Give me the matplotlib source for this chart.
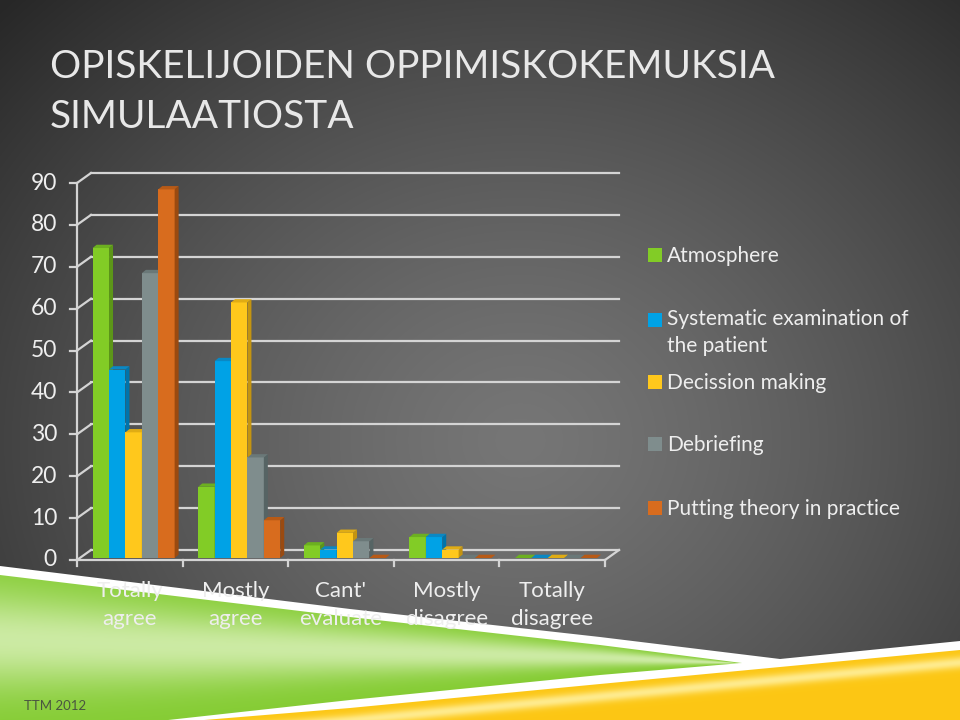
import matplotlib.pyplot as plt
import numpy as np
from matplotlib.patches import Polygon, Rectangle

# data
categories = ["Totally\nagree", "Mostly\nagree", "Cant'\nevaluate", "Mostly\ndisagree", "Totally\ndisagree"]
series = ["Atmosphere", "Systematic examination of\nthe patient", "Decission making",
          "Debriefing", "Putting theory in practice"]
atmosphere = [74, 17, 3, 5, 0]
systematic = [45, 47, 2, 5, 0]
decission = [30, 61, 6, 2, 0]
debriefing = [68, 24, 4, 0, 0]
putting = [88, 9, 0, 0, 0]
values = [atmosphere, systematic, decission, debriefing, putting]
yticks = [0, 10, 20, 30, 40, 50, 60, 70, 80, 90]

front = ["#82cc26", "#00a2e6", "#ffc81c", "#7f8d8d", "#d86c1e"]
side = ["#5c9618", "#0074ab", "#c49410", "#566464", "#9a4a10"]
top = ["#6cb020", "#0a88c4", "#e0ac14", "#6a7878", "#b85a16"]

FONT = "Lato"
TXT = "#eeeeee"

W, H = 960, 720
fig = plt.figure(figsize=(9.6, 7.2), dpi=100)

# background with radial gradient and swoosh (pixel coordinates)
bg = fig.add_axes([0, 0, 1, 1])
bg.set_xlim(0, W)
bg.set_ylim(H, 0)
bg.axis("off")
xx, yy = np.meshgrid(np.arange(W), np.arange(H))
r = np.sqrt(((xx - 520) / 600.0) ** 2 + ((yy - 440) / 520.0) ** 2)
v = (118 - 62 * np.clip(r, 0, 1.2) ** 1.3) / 255.0
bg.imshow(np.dstack([v, v, v]), extent=[0, W, H, 0], aspect="auto", zorder=0)

white_x = [0, 350, 600, 780, 960, 960, 0]
white_y = [566, 609, 637, 659, 641, 720, 720]
bg.add_patch(Polygon(list(zip(white_x, white_y)), closed=True, fc="white", ec="none", zorder=1))

# green wedge
gtop_x = [0, 350, 600, 742]
gtop_y = [575, 617, 645, 663]
gbot_x = [150, 350, 600, 742]
gbot_y = [722, 700, 675, 663]
gpoly = Polygon(list(zip(gtop_x, gtop_y)) + list(zip(gbot_x[::-1], gbot_y[::-1])) + [(0, 722)],
                closed=True, fc="none", ec="none")
bg.add_patch(gpoly)
ty = np.interp(xx, gtop_x, gtop_y)
by = np.interp(xx, [0] + gbot_x, [735] + gbot_y)
t = np.clip((yy - ty) / np.maximum(by - ty, 1), 0, 1)
light = np.exp(-((t - 0.4) / 0.3) ** 2)
c1 = np.array([0.52, 0.80, 0.20])
c2 = np.array([0.80, 0.92, 0.64])
gimg = c1[None, None, :] * (1 - light[..., None]) + c2[None, None, :] * light[..., None]
im = bg.imshow(gimg, extent=[0, W, H, 0], aspect="auto", zorder=2)
im.set_clip_path(gpoly)

# yellow strip
ytop_x = [180, 350, 600, 960]
ytop_y = [722, 708, 684, 650]
ypoly = Polygon(list(zip(ytop_x, ytop_y)) + [(960, 722)], closed=True, fc="none", ec="none")
bg.add_patch(ypoly)
yt = np.interp(xx, ytop_x, ytop_y)
s = np.clip((yy - yt) / 40.0, 0, 1)
hl = np.exp(-((s - 0.3) / 0.15) ** 2)
y1 = np.array([0.99, 0.78, 0.08])
y2 = np.array([1.0, 0.92, 0.55])
yimg = y1[None, None, :] * (1 - hl[..., None]) + y2[None, None, :] * hl[..., None]
im2 = bg.imshow(yimg, extent=[0, W, H, 0], aspect="auto", zorder=2)
im2.set_clip_path(ypoly)

# title
bg.text(50, 78, "OPISKELIJOIDEN OPPIMISKOKEMUKSIA", color="#e8e8e8", fontsize=28,
        family=FONT, va="baseline", ha="left", zorder=5)
bg.text(50, 128, "SIMULAATIOSTA", color="#e8e8e8", fontsize=28,
        family=FONT, va="baseline", ha="left", zorder=5)
bg.text(24, 710, "TTM 2012", color="#4a5640", fontsize=9.5, family=FONT, zorder=5)

# legend
leg_y = [255, 320, 382, 444, 508]
for i, name in enumerate(series):
    bg.add_patch(Rectangle((648, leg_y[i] - 7), 14, 14, fc=front[i], ec="none", zorder=5))
    if "\n" in name:
        bg.text(667, leg_y[i] - 11, name, color=TXT, fontsize=15, family=FONT,
                va="top", ha="left", zorder=5, linespacing=1.42)
    else:
        bg.text(667, leg_y[i] + 1, name, color=TXT, fontsize=15, family=FONT,
                va="center", ha="left", zorder=5)

# chart axes, placed so that front axis x 77..605 px and y 0..90 -> 560..183 px
x0, x1, y0, y1 = 77, 605, 560, 183
ax = fig.add_axes([x0 / W, (H - y0) / H, (x1 - x0) / W, (y0 - y1) / H])
ax.set_xlim(0, 5)
ax.set_ylim(0, 90)
ax.axis("off")
ax.patch.set_alpha(0)
pxx = (x1 - x0) / 5.0
pxy = (y0 - y1) / 90.0
dxb, dyb = 14 / pxx, 10 / pxy      # depth of the back wall
dxs, dys = 4 / pxx, 3.3 / pxy      # bar depth
base = 2 / pxy
grid = "#d4d4d4"
lw = 1.6

for tv in yticks:
    if tv > 0:
        ax.plot([dxb, 5 + dxb], [tv + dyb, tv + dyb], color=grid, lw=lw, clip_on=False, zorder=1)
    ax.plot([0, dxb], [tv, tv + dyb], color=grid, lw=lw, clip_on=False, zorder=1)
    ax.plot([-7 / pxx, 0], [tv, tv], color=grid, lw=lw, clip_on=False, zorder=1)
    ax.text(-20 / pxx, tv, str(tv), color=TXT, fontsize=16.5, family=FONT,
            ha="right", va="center")
ax.plot([dxb, 5 + dxb], [dyb, dyb], color=grid, lw=lw, clip_on=False, zorder=1)
ax.plot([5, 5 + dxb], [0, dyb], color=grid, lw=lw, clip_on=False, zorder=1)
ax.plot([0, 0], [0, 90], color=grid, lw=lw, clip_on=False, zorder=1)
ax.plot([0, 5], [0, 0], color=grid, lw=lw, clip_on=False, zorder=4)
for c in range(6):
    ax.plot([c, c], [0, -6 / pxy], color=grid, lw=lw, clip_on=False, zorder=4)

bw = 16.4 / pxx
for c in range(len(categories)):
    for j in range(len(series)):
        val = values[j][c]
        bx = c + 0.148 + j * bw
        b0 = base
        bt = base + val
        z = 2 + 0.01 * j
        if val > 0:
            ax.add_patch(Polygon([(bx, b0), (bx + bw, b0), (bx + bw, bt), (bx, bt)],
                                 fc=front[j], ec="none", zorder=z, clip_on=False))
            ax.add_patch(Polygon([(bx + bw, b0), (bx + bw + dxs, b0 + dys), (bx + bw + dxs, bt + dys),
                                  (bx + bw, bt)], fc=side[j], ec="none", zorder=z, clip_on=False))
        ax.add_patch(Polygon([(bx, bt), (bx + bw, bt), (bx + bw + dxs, bt + dys), (bx + dxs, bt + dys)],
                             fc=top[j], ec="none", zorder=z, clip_on=False))
    ax.text(c + 0.5, -45 / pxy, categories[c], color=TXT, fontsize=16, family=FONT,
            ha="center", va="center", linespacing=1.45, zorder=6)

fig.savefig("out.png", dpi=100)
